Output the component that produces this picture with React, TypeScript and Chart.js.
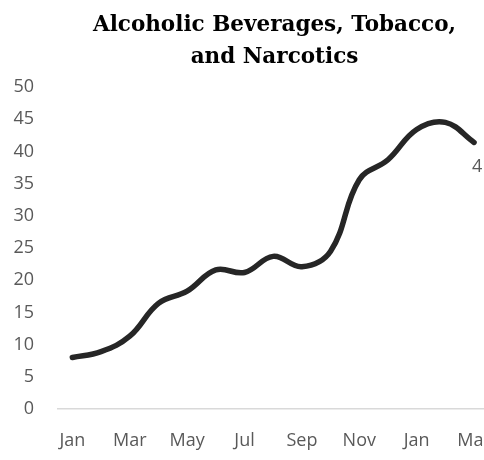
import React, { useEffect, useRef } from "react";
import { Chart, registerables } from "chart.js";

Chart.register(...registerables);

const months = ["Jan", "Feb", "Mar", "Apr", "May", "Jun", "Jul", "Aug", "Sep", "Oct", "Nov", "Dec", "Jan", "Feb", "Mar"];
const values = [8, 8.9, 11.3, 16.4, 18.3, 21.6, 21.2, 23.7, 22.1, 24.5, 35.6, 38.7, 43.4, 44.5, 41.4];
const titleLines = ["Alcoholic Beverages, Tobacco,", "and Narcotics"];
const yTicks = [0, 5, 10, 15, 20, 25, 30, 35, 40, 45, 50];

const tickFont = { family: "'Open Sans', sans-serif", size: 18 };
const gray = "#595959";

const titlePlugin = {
  id: "customTitle",
  afterDraw(chart: any) {
    const ctx = chart.ctx;
    ctx.save();
    ctx.fillStyle = "#000";
    ctx.font = "bold 21.5px 'DejaVu Serif'";
    ctx.textAlign = "center";
    ctx.textBaseline = "alphabetic";
    ctx.fillText(titleLines[0], 274.5, 31);
    ctx.fillText(titleLines[1], 274.5, 63);
    ctx.restore();
  },
};

const lastLabelPlugin = {
  id: "lastLabel",
  afterDatasetsDraw(chart: any) {
    const meta = chart.getDatasetMeta(0);
    const i = values.length - 1;
    const pt = meta.data[i];
    const ctx = chart.ctx;
    ctx.save();
    ctx.fillStyle = gray;
    ctx.font = "18px 'Open Sans'";
    ctx.textAlign = "left";
    ctx.textBaseline = "alphabetic";
    ctx.fillText(String(values[i]), pt.x - 2, pt.y + 30);
    ctx.restore();
  },
};

export default function App() {
  const ref = useRef<HTMLCanvasElement>(null);
  useEffect(() => {
    const canvas = ref.current!;
    const chart = new Chart(canvas, {
      type: "line",
      data: {
        labels: months,
        datasets: [
          {
            data: values,
            borderColor: "#262626",
            borderWidth: 5.5,
            borderCapStyle: "round",
            borderJoinStyle: "round",
            tension: 0.4,
            pointRadius: 0,
            fill: false,
          },
        ],
      },
      options: {
        responsive: false,
        animation: false,
        devicePixelRatio: 1,
        layout: { padding: { left: 0, right: 31.6, top: 87, bottom: 0 } },
        plugins: {
          legend: { display: false },
          title: { display: false },
          tooltip: { enabled: false },
        },
        scales: {
          x: {
            offset: true,
            grid: { display: false, drawTicks: false },
            border: { display: true, color: "#d9d9d9", width: 1.5 },
            afterFit: (s: any) => {
              s.height = 51;
            },
            ticks: {
              autoSkip: false,
              maxRotation: 0,
              minRotation: 0,
              color: gray,
              font: tickFont,
              padding: 21,
              callback: (_v: any, i: number) => (i % 2 === 0 ? months[i] : ""),
            },
          },
          y: {
            min: 0,
            max: 50,
            afterBuildTicks: (s: any) => {
              s.ticks = yTicks.map((v) => ({ value: v }));
            },
            afterFit: (s: any) => {
              s.width = 58;
            },
            grid: { display: false, drawTicks: false },
            border: { display: false },
            ticks: { color: gray, font: tickFont, padding: 24 },
          },
        },
      },
      plugins: [titlePlugin, lastLabelPlugin],
    } as any);
    return () => chart.destroy();
  }, []);
  return (
    <div style={{ position: "fixed", left: 0, top: 0, width: 484, height: 460, overflow: "hidden", background: "#fff" }}>
      <canvas ref={ref} width={520} height={460} style={{ width: 520, height: 460, display: "block" }} />
    </div>
  );
}
